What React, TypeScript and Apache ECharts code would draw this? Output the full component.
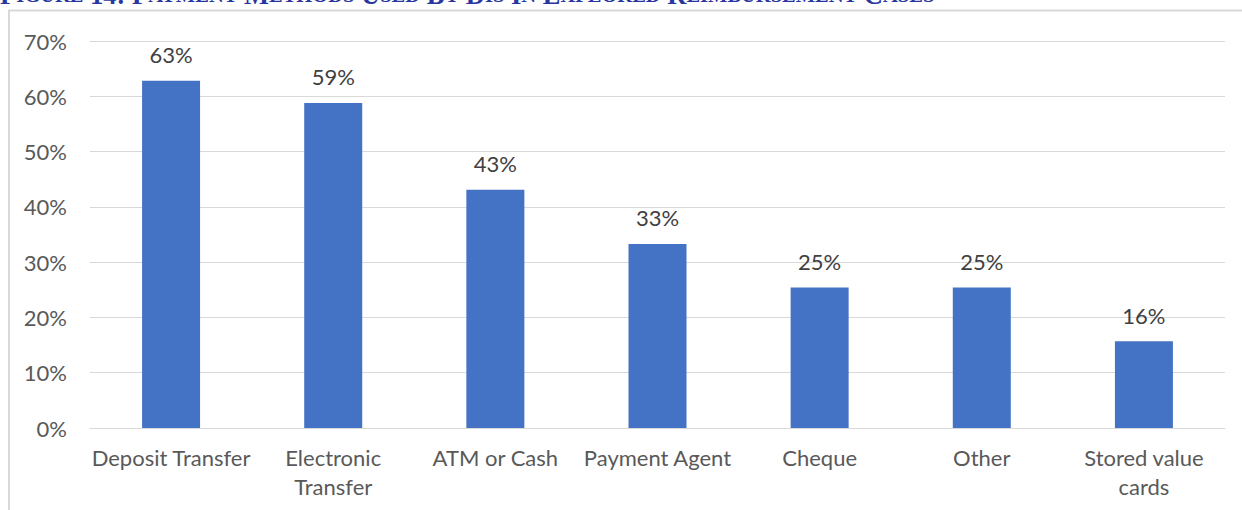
import React, { useEffect, useRef } from "react";
import * as echarts from "echarts";

const categories = [
  "Deposit Transfer",
  "Electronic\nTransfer",
  "ATM or Cash",
  "Payment Agent",
  "Cheque",
  "Other",
  "Stored value\ncards",
];
const shares = [62.8, 58.8, 43.1, 33.3, 25.4, 25.4, 15.7];
const yTicks = [0, 10, 20, 30, 40, 50, 60, 70];

const titleWords = ["FIGURE", "14:", "PAYMENT", "METHODS", "USED", "BY", "DIS", "IN", "EXPLORED", "REIMBURSEMENT", "CASES"];

const FONT = "Lato";
const FS = 22;

export default function App() {
  const ref = useRef<HTMLDivElement>(null);
  useEffect(() => {
    if (!ref.current) return;
    const chart = echarts.init(ref.current, null, { renderer: "svg" });
    let titleText = "";
    titleWords.forEach((w, i) => {
      if (i > 0) titleText += "{b| }";
      if (/^[A-Z]/.test(w)) {
        titleText += "{b|" + w[0] + "}";
        if (w.length > 1) titleText += "{s|" + w.slice(1) + "}";
      } else {
        titleText += "{b|" + w + "}";
      }
    });
    const textColor = "#595959";
    chart.setOption({
      animation: false,
      grid: { left: 90, right: 17, top: 41, bottom: 82 },
      xAxis: {
        type: "category",
        data: categories,
        axisLine: { lineStyle: { color: "#d9d9d9", width: 1 } },
        axisTick: { show: false },
        axisLabel: {
          color: textColor,
          fontFamily: FONT,
          fontSize: FS,
          lineHeight: 29,
          margin: 15,
          interval: 0,
        },
      },
      yAxis: {
        type: "value",
        min: 0,
        max: 70,
        interval: 10,
        axisLine: { show: false },
        axisTick: { show: false },
        splitLine: { lineStyle: { color: "#d9d9d9", width: 1 } },
        axisLabel: {
          color: textColor,
          fontFamily: FONT,
          fontSize: FS,
          margin: 23,
          padding: [0, 0, 5, 0],
          formatter: (v: number) => (yTicks.includes(v) ? v + "%" : ""),
        },
      },
      series: [
        {
          type: "bar",
          data: shares,
          barWidth: 58,
          itemStyle: { color: "#4472c4" },
          label: {
            show: true,
            position: "top",
            distance: 15,
            color: "#404040",
            fontFamily: FONT,
            fontSize: FS,
            formatter: (p: any) => Math.round(p.value) + "%",
          },
        },
      ],
      graphic: [
        {
          type: "polyline",
          shape: { points: [[9, 510], [9, 10.5], [1242, 10.5]] },
          style: { stroke: "#d9d9d9", lineWidth: 2, fill: "none" },
        },
        {
          type: "text",
          x: 0,
          y: 8,
          style: {
            text: titleText,
            textVerticalAlign: "bottom",
            rich: {
              b: { fontFamily: "Liberation Serif", fontWeight: "bold", fontSize: 26.5, fill: "#2936a0" },
              s: { fontFamily: "Liberation Serif", fontWeight: "bold", fontSize: 20.5, fill: "#2936a0" },
            },
          },
        },
      ],
    });
    return () => chart.dispose();
  }, []);
  return (
    <div
      ref={ref}
      style={{ position: "absolute", left: 0, top: 0, width: 1242, height: 510 }}
    />
  );
}
